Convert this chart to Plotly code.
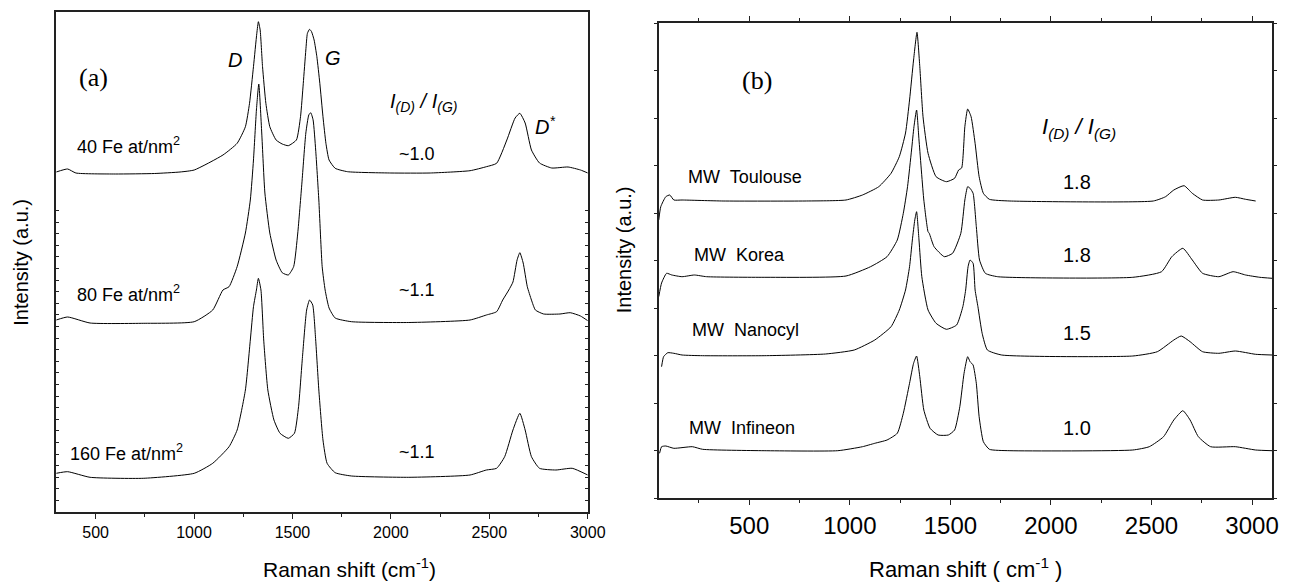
import plotly.graph_objects as go

W, H = 1301, 584

# ---------------- Panel (a) data: Raman shift (cm-1) / intensity (a.u.) ----------------
a_fe40_x = [300, 358, 400, 600, 800, 929, 1001, 1147, 1219, 1261, 1282, 1302, 1319, 1327,
            1336, 1348, 1365, 1385, 1417, 1448, 1479, 1520, 1541, 1555, 1568, 1576, 1587,
            1597, 1610, 1624, 1639, 1655, 1670, 1686, 1717, 1780, 2000, 2200, 2402, 2485,
            2537, 2589, 2631, 2655, 2682, 2714, 2755, 2817, 2900, 2963, 3000]
a_fe40_y = [340, 343, 339, 338, 338.5, 340, 342, 357, 368.7, 385.3, 408.7, 445.3, 478.7, 490.3,
            482, 445.3, 408.7, 385.3, 372, 368, 366.3, 372, 395.3, 428.7, 462, 478.7, 482.7,
            480.3, 472, 455.3, 428.7, 395.3, 368.7, 352, 343.7, 340.3, 339, 339, 341.3, 345.3,
            348.7, 372, 394, 398.7, 389, 362, 349, 344, 345, 342, 339]

a_fe80_x = [300, 358, 472, 742, 1001, 1095, 1147, 1178, 1219, 1261, 1286, 1302, 1317, 1329,
            1344, 1360, 1385, 1417, 1448, 1479, 1506, 1527, 1548, 1568, 1583, 1593, 1605,
            1618, 1634, 1651, 1666, 1686, 1717, 1800, 2091, 2402, 2485, 2537, 2568, 2599,
            2620, 2641, 2655, 2672, 2693, 2714, 2734, 2776, 2859, 2911, 2963, 3000]
a_fe80_y = [192, 195, 189, 188.7, 190.3, 202, 222, 225.3, 245.3, 279, 312, 352, 402, 428,
            379, 319, 279, 252, 239.3, 237, 245.3, 279, 329, 379, 397, 399.3, 392,
            362, 312, 245.3, 222, 204, 194, 190.3, 189.5, 192, 197, 200.3, 212, 222,
            230, 252, 259.3, 249, 225.3, 212, 202, 198, 198, 199.3, 196, 191.3]

a_fe160_x = [300, 358, 472, 742, 1001, 1095, 1178, 1219, 1261, 1286, 1302, 1317, 1327, 1340,
             1354, 1375, 1406, 1437, 1479, 1510, 1531, 1551, 1572, 1587, 1603, 1618, 1634,
             1655, 1676, 1717, 1800, 2091, 2402, 2485, 2537, 2578, 2620, 2655, 2682, 2714,
             2755, 2838, 2921, 3000]
a_fe160_y = [38.7, 40.3, 34.7, 33.7, 38.7, 48.7, 65.3, 82, 122, 172, 205.3, 222, 233.7, 222,
             172, 122, 92, 78.7, 73.7, 78.7, 105.3, 155.3, 202, 212, 207, 172, 122,
             72, 48.7, 39.3, 36, 34.7, 37, 42, 43.7, 55.3, 82, 98.7, 82, 55.3,
             43.7, 42, 43.7, 37]

a_labels = ["40 Fe at/nm<sup>2</sup>", "80 Fe at/nm<sup>2</sup>", "160 Fe at/nm<sup>2</sup>"]
a_ratios = ["~1.0", "~1.1", "~1.1"]

# ---------------- Panel (b) data ----------------
b_tou_x = [50, 60, 85, 105, 125, 166, 370, 777, 981, 1063, 1144, 1205, 1246, 1277, 1297, 1317,
           1334, 1348, 1364, 1389, 1429, 1480, 1521, 1541, 1556, 1572, 1586, 1603, 1623, 1643,
           1664, 1694, 1796, 2509, 2570, 2611, 2662, 2703, 2754, 2835, 2917, 2968, 3018]
b_tou_y = [278, 291.3, 301.3, 303, 298, 298, 297, 297, 298, 303, 311.3, 324.7, 341.3, 365, 398, 438,
           465.7, 431.3, 381.3, 344.7, 321.3, 316.3, 319.7, 328, 330, 371.3, 389, 381.3, 354.7, 321.3,
           304.7, 298.7, 297, 297, 301.3, 308, 312.3, 304.7, 298, 298, 300.7, 298.7, 297]

b_kor_x = [50, 64, 89, 115, 166, 227, 288, 574, 981, 1103, 1185, 1236, 1266, 1287, 1307, 1319,
           1332, 1344, 1368, 1389, 1395, 1419, 1470, 1511, 1552, 1572, 1586, 1598, 1613, 1629,
           1645, 1674, 1735, 2407, 2550, 2601, 2656, 2703, 2754, 2835, 2906, 2968, 3039, 3100]
b_kor_y = [201.3, 215, 224.7, 223, 221.3, 223, 221.3, 220.7, 222, 231.3, 241.3, 258, 284.7, 311.3, 348, 371.3,
           388, 358, 298, 266.3, 264.7, 251.3, 241.3, 244.7, 264.7, 298, 311.3, 309.7, 304.7, 271.3,
           238, 224.7, 221.3, 220.7, 226.3, 241.3, 249.7, 238, 224.7, 221.3, 226.3, 223, 220.7, 219.7]

b_nan_x = [64, 74, 95, 125, 166, 268, 574, 879, 1022, 1124, 1205, 1246, 1277, 1297, 1311, 1323,
           1332, 1344, 1358, 1389, 1429, 1480, 1531, 1562, 1576, 1588, 1598, 1613, 1623, 1637,
           1658, 1684, 1755, 2407, 2529, 2611, 2648, 2692, 2754, 2835, 2917, 3018, 3100]
b_nan_y = [131.3, 141.3, 145.3, 144.7, 143, 142.3, 142.3, 144, 148, 158, 171.3, 188, 208, 231.3, 258, 278,
           286.3, 258, 221.3, 188, 174.7, 168.7, 173, 191.3, 208, 231.3, 238, 234.7, 208, 191.3,
           164.7, 148, 143, 142, 146.3, 158, 162, 156.3, 146.3, 144.7, 147, 143.7, 143]

b_inf_x = [54, 64, 85, 125, 217, 268, 574, 940, 1063, 1124, 1185, 1236, 1266, 1297, 1317, 1332,
           1348, 1368, 1399, 1439, 1490, 1521, 1547, 1568, 1586, 1598, 1613, 1629, 1643, 1664,
           1694, 1796, 2407, 2489, 2560, 2611, 2656, 2692, 2733, 2794, 2917, 3018, 3100]
b_inf_y = [44.7, 51.3, 52, 49.7, 51.3, 48.7, 47.3, 47.3, 51.3, 54.7, 58, 64.7, 84.7, 114.7, 134.7, 142,
           121.3, 88, 69.7, 63, 63, 68, 91.3, 124.7, 141.3, 136.3, 133, 114.7, 81.3, 56.3,
           48.7, 47.3, 48, 51.3, 61.3, 78, 87.3, 78, 61.3, 51.3, 51.3, 48, 47.3]

b_labels = ["MW  Toulouse", "MW  Korea", "MW  Nanocyl", "MW  Infineon"]
b_ratios = ["1.8", "1.8", "1.5", "1.0"]

x_ticks = [500, 1000, 1500, 2000, 2500, 3000]

# ---------------- Figure ----------------
FONT = "Arial, Liberation Sans, sans-serif"
SERIF = "Times New Roman, Liberation Serif, serif"

def px(x):
    return x / W

def py(y):
    return 1 - y / H

fig = go.Figure()
line = dict(color="black", width=1, shape="spline", smoothing=0.5)
for xs, ys in [(a_fe40_x, a_fe40_y), (a_fe80_x, a_fe80_y), (a_fe160_x, a_fe160_y)]:
    fig.add_trace(go.Scatter(x=xs, y=ys, mode="lines", line=line, xaxis="x", yaxis="y",
                             showlegend=False, hoverinfo="skip"))
for xs, ys in [(b_tou_x, b_tou_y), (b_kor_x, b_kor_y), (b_nan_x, b_nan_y), (b_inf_x, b_inf_y)]:
    fig.add_trace(go.Scatter(x=xs, y=ys, mode="lines", line=line, xaxis="x2", yaxis="y2",
                             showlegend=False, hoverinfo="skip"))

axis_common = dict(showgrid=False, zeroline=False, linecolor="#222", linewidth=1.5,
                   tickcolor="#222", showline=True)

fig.update_layout(
    width=W, height=H, margin=dict(l=0, r=0, t=0, b=0),
    paper_bgcolor="white", plot_bgcolor="white",
    font=dict(family=FONT, color="black"),
    xaxis=dict(domain=[px(57), px(596)], range=[300, 3000], anchor="y",
               tickvals=x_ticks, ticks="outside", ticklen=5, tickwidth=1,
               tickfont=dict(size=16, family=FONT), mirror=True,
               minor=dict(tickvals=[750, 1250, 1750, 2250, 2750], ticks="outside",
                          ticklen=3, tickcolor="#222"),
               **axis_common),
    yaxis=dict(domain=[py(512), py(12)], range=[0, 500], anchor="x",
               tickvals=[i * 11.6 for i in range(27)], ticks="inside", ticklen=3,
               tickwidth=1, showticklabels=False, mirror="ticks", **axis_common),
    xaxis2=dict(domain=[px(668), px(1290)], range=[50, 3100], anchor="y2",
                tickvals=x_ticks, ticks="outside", ticklen=5, tickwidth=1,
                tickfont=dict(size=24, family=FONT), mirror="ticks",
                minor=dict(tickvals=[250, 750, 1250, 1750, 2250, 2750], ticks="outside",
                           ticklen=3, tickcolor="#222"),
                **axis_common),
    yaxis2=dict(domain=[py(498), py(23)], range=[0, 475], anchor="x2",
                tickvals=[i * 47.5 for i in range(11)], ticks="outside", ticklen=3,
                tickwidth=1, showticklabels=False, mirror="ticks", **axis_common),
)

ann = []

def text(x, y, t, size=19, family=FONT, angle=0, xanchor="center", yanchor="middle"):
    ann.append(dict(x=px(x), y=py(y), xref="paper", yref="paper", text=t, showarrow=False,
                    font=dict(size=size, family=family, color="black"), textangle=angle,
                    xanchor=xanchor, yanchor=yanchor))

# panel (a)
text(95, 78, "(a)", size=26, family=SERIF)
text(238, 60, "<i>D</i>", size=20)
text(338, 58, "<i>G</i>", size=20)
text(553, 126, "<i>D<sup>*</sup></i>", size=20)
text(429, 103, "<i>I<sub>(D)</sub> / I<sub>(G)</sub></i>", size=20)
for (lx, ly), lab in zip([(76, 145), (76, 293), (69, 452)], a_labels):
    text(lx, ly, lab, size=18, xanchor="left")
for ly, r in zip([154, 290, 452], a_ratios):
    text(423, ly, r, size=18)
text(354, 583, "Raman shift (cm<sup>-1</sup>)", size=21, yanchor="bottom")
text(21, 262, "Intensity (a.u.)", size=20, angle=-90)

# panel (b)
text(768, 80, "(b)", size=26, family=SERIF)
text(1094, 128, "<i>I<sub>(D)</sub> / I<sub>(G)</sub></i>", size=22)
for (lx, ly), lab in zip([(696, 177), (702, 255), (700, 330), (697, 428)], b_labels):
    text(lx, ly, lab, size=18, xanchor="left")
for ly, r in zip([182, 255, 333, 428], b_ratios):
    text(1092, ly, r, size=20)
text(979, 584, "Raman shift ( cm<sup>-1</sup> )", size=22, yanchor="bottom")
text(633, 250, "Intensity (a.u.)", size=20, angle=-90)

fig.update_layout(annotations=ann)
fig.write_html("out.html")
